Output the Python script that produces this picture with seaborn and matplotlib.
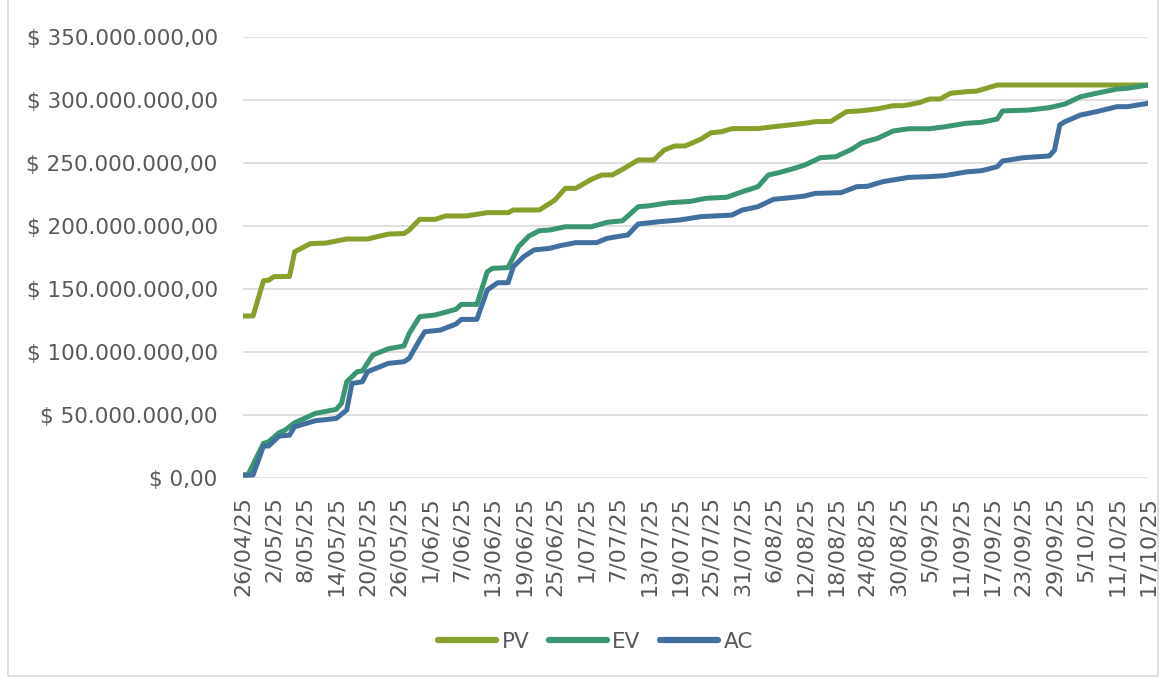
import matplotlib
matplotlib.use("Agg")
import matplotlib.pyplot as plt
import matplotlib.ticker as mticker
import numpy as np
import pandas as pd
import seaborn as sns

# data: days since 26/04/25, values in millions of $
start_date = "2025-04-26"
end_date = "2025-10-17"

pv_days = [0, 2, 4, 5, 6, 9, 10, 13, 16, 20, 24, 28, 31, 32, 34, 37, 39, 43, 47, 51, 52, 57,
           60, 62, 64, 67, 69, 71, 73, 76, 79, 81, 83, 85, 88, 90, 92, 94, 99, 102, 108, 110,
           113, 116, 119, 122, 125, 127, 130, 132, 134, 136, 139, 141, 145, 174]
pv_values = [128.6, 128.6, 156.6, 157.0, 159.8, 160.0, 179.6, 186.0, 186.5, 189.7, 189.7, 193.6,
             194.0, 196.8, 205.3, 205.3, 208.0, 208.0, 210.6, 210.6, 212.7, 212.7, 220.6, 229.9,
             229.9, 237.0, 240.5, 240.5, 245.0, 252.4, 252.4, 260.3, 263.5, 263.5, 268.8, 274.0,
             274.8, 277.3, 277.3, 278.8, 281.5, 282.8, 283.0, 290.7, 291.5, 293.0, 295.5, 295.5,
             297.9, 300.8, 300.8, 305.3, 306.6, 307.0, 311.9, 311.9]

ev_days = [0, 1, 4, 5, 7, 8, 10, 14, 18, 19, 20, 22, 23, 25, 28, 31, 32, 34, 37, 41, 42, 45,
           47, 48, 51, 53, 55, 57, 59, 62, 67, 70, 73, 76, 78, 82, 86, 89, 93, 96, 99, 101,
           103, 106, 108, 111, 114, 115, 117, 119, 122, 125, 128, 132, 135, 139, 142, 145,
           146, 151, 155, 158, 161, 164, 168, 170, 174]
ev_values = [2.4, 2.4, 27.5, 28.8, 36.0, 37.6, 43.9, 51.3, 54.5, 59.3, 76.4, 84.4, 85.0, 97.6,
             102.6, 104.8, 114.8, 128.0, 129.4, 133.9, 137.8, 137.8, 163.7, 166.4, 167.0, 183.6,
             192.0, 196.3, 196.8, 199.4, 199.4, 202.9, 204.2, 215.3, 216.0, 218.5, 219.5, 222.0,
             222.8, 227.2, 231.2, 240.5, 242.3, 245.8, 248.4, 254.2, 255.0, 257.0, 260.8, 266.1,
             269.6, 275.4, 277.2, 277.2, 278.8, 281.5, 282.3, 284.9, 291.3, 292.0, 293.9, 296.8,
             302.6, 305.3, 308.7, 309.3, 311.9]

ac_days = [0, 2, 4, 5, 7, 9, 10, 14, 18, 20, 21, 23, 24, 28, 31, 32, 34, 35, 38, 41, 42, 45,
           47, 49, 51, 52, 54, 56, 59, 61, 64, 68, 70, 74, 76, 80, 84, 88, 94, 96, 99, 102,
           106, 108, 110, 115, 118, 120, 123, 128, 132, 135, 139, 142, 145, 146, 150, 155,
           156, 157, 158, 161, 164, 168, 170, 174]
ac_values = [2.4, 2.4, 25.4, 25.4, 33.3, 34.0, 40.7, 45.5, 47.3, 54.0, 75.1, 76.4, 84.4, 91.0,
             92.3, 95.0, 109.5, 116.1, 117.4, 122.2, 125.9, 125.9, 149.2, 155.0, 155.0, 167.7,
             175.7, 181.0, 182.3, 184.4, 186.8, 186.8, 190.2, 192.9, 201.6, 203.4, 204.8, 207.4,
             208.7, 212.7, 215.3, 221.2, 222.8, 223.8, 225.9, 226.5, 231.2, 231.5, 235.2, 238.6,
             239.2, 240.0, 242.9, 243.9, 247.1, 251.6, 254.2, 255.6, 260.3, 280.2, 282.8, 288.1,
             290.7, 294.7, 294.7, 297.4]

series = ["PV", "EV", "AC"]
colors = ["#86a02b", "#3a9670", "#41709f"]

frames = []
for name, d, v in zip(series, [pv_days, ev_days, ac_days], [pv_values, ev_values, ac_values]):
    frames.append(pd.DataFrame({
        "fecha": pd.to_datetime(start_date) + pd.to_timedelta(d, unit="D"),
        "valor": np.array(v) * 1e6,
        "serie": name,
    }))
df = pd.concat(frames, ignore_index=True)

sns.set_style("white")
plt.rcParams["font.family"] = ["DejaVu Sans"]
text_color = "#595959"

fig = plt.figure(figsize=(11.61, 6.8), dpi=100)
ax = fig.add_axes([0.209, 0.297, 0.78, 0.6486])

sns.lineplot(data=df, x="fecha", y="valor", hue="serie", hue_order=series,
             palette=colors, linewidth=3.6, estimator=None, sort=True, ax=ax,
             solid_capstyle="round", solid_joinstyle="round")

ax.set_ylim(0, 350e6)
ax.set_xlim(pd.to_datetime(start_date), pd.to_datetime(end_date))
ax.yaxis.set_major_locator(mticker.MultipleLocator(50e6))


def peso(v, pos):
    s = "{:,.2f}".format(v).replace(",", "X").replace(".", ",").replace("X", ".")
    return "$ " + s


ax.yaxis.set_major_formatter(mticker.FuncFormatter(peso))
ticks = pd.date_range(start_date, end_date, freq="6D")
ax.set_xticks(ticks)
ax.set_xticklabels([f"{t.day}/{t.month:02d}/{t.strftime('%y')}" for t in ticks],
                   rotation=90, va="top", ha="center")

ax.grid(axis="y", color="#d9d9d9", linewidth=1.2)
ax.grid(axis="x", visible=False)
for sp in ax.spines.values():
    sp.set_visible(False)
ax.tick_params(axis="y", length=0, labelsize=15.5, labelcolor=text_color, pad=18)
ax.tick_params(axis="x", length=0, labelsize=16, labelcolor=text_color, pad=13)
ax.set_xlabel("")
ax.set_ylabel("")

leg = ax.legend(loc="center", bbox_to_anchor=(0.513, 0.056), bbox_transform=fig.transFigure,
                ncol=3, frameon=False, fontsize=15.5, handlelength=2.7, handletextpad=0.25,
                columnspacing=0.9)
for t in leg.get_texts():
    t.set_color(text_color)
for h in leg.get_lines():
    h.set_linewidth(4.5)
    h.set_solid_capstyle("round")

# chart frame like the spreadsheet
fig.patches.append(plt.Rectangle((0.007, 0.006), 0.99, 1.2, transform=fig.transFigure,
                                 fill=False, edgecolor="#d9d9d9", linewidth=1.2))

fig.savefig("out.png", dpi=100)
